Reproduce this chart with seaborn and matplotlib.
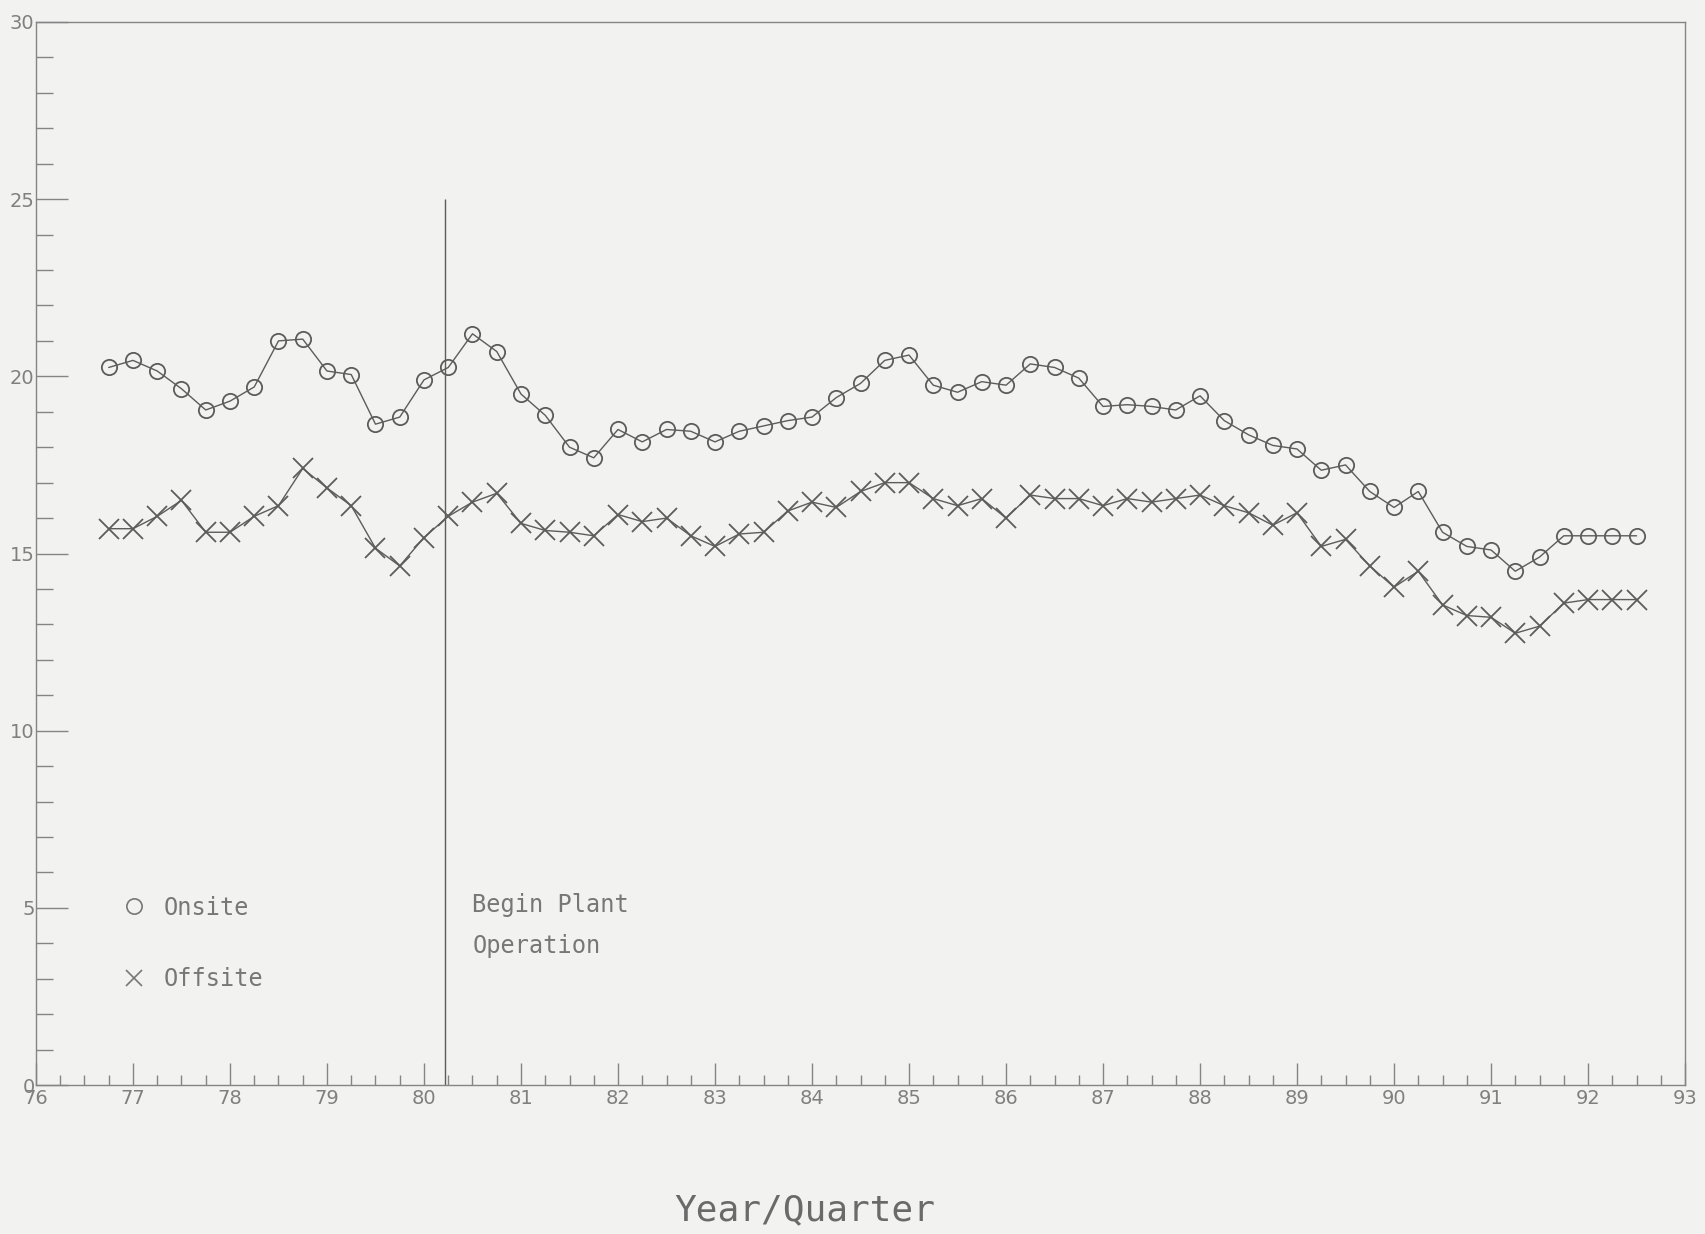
import numpy as np
import pandas as pd
import matplotlib
matplotlib.use("Agg")
import matplotlib.pyplot as plt
import seaborn as sns
from matplotlib.lines import Line2D
from matplotlib.ticker import MultipleLocator

# quarterly values, 76 Q4 .. 92 Q3
onsite = [20.25, 20.45, 20.15, 19.65, 19.05, 19.3, 19.7, 21.0, 21.05, 20.15,
          20.05, 18.65, 18.85, 19.9, 20.25, 21.2, 20.7, 19.5, 18.9, 18.0,
          17.7, 18.5, 18.15, 18.5, 18.45, 18.15, 18.45, 18.6, 18.75, 18.85,
          19.4, 19.8, 20.45, 20.6, 19.75, 19.55, 19.85, 19.75, 20.35, 20.25,
          19.95, 19.15, 19.2, 19.15, 19.05, 19.45, 18.75, 18.35, 18.05, 17.95,
          17.35, 17.5, 16.75, 16.3, 16.75, 15.6, 15.2, 15.1, 14.5, 14.9,
          15.5, 15.5, 15.5, 15.5]
offsite = [15.7, 15.7, 16.05, 16.5, 15.6, 15.6, 16.05, 16.35, 17.4, 16.85,
           16.35, 15.15, 14.65, 15.45, 16.05, 16.45, 16.7, 15.85, 15.65, 15.6,
           15.5, 16.1, 15.9, 16.0, 15.5, 15.2, 15.55, 15.6, 16.2, 16.45,
           16.3, 16.75, 17.0, 17.0, 16.55, 16.35, 16.55, 16.0, 16.65, 16.55,
           16.55, 16.35, 16.55, 16.45, 16.55, 16.65, 16.35, 16.15, 15.8, 16.15,
           15.2, 15.4, 14.65, 14.05, 14.5, 13.55, 13.25, 13.2, 12.75, 12.95,
           13.6, 13.7, 13.7, 13.7]
quarters = [76.75] + [y + q / 4 for y in range(77, 93) for q in range(4)][:63]
year_ticks = list(range(76, 94))
year_labels = [str(y) for y in year_ticks]
plant_start = 80.22

df = pd.DataFrame({"quarter": quarters, "Onsite": onsite, "Offsite": offsite})

sns.set_theme(style="white")
plt.rcParams["font.family"] = ["DejaVu Sans Mono", "DejaVu Sans"]

bg = "#f2f2f0"
ink = "#5c5c5c"
grey = "#858585"
txt = "#777777"
tick_font = ["Liberation Sans Narrow", "DejaVu Sans"]

fig = plt.figure(figsize=(17.05, 12.34), dpi=100, facecolor=bg)
ax = fig.add_axes([0.0211, 0.1207, 0.9672, 0.8615])
ax.set_facecolor(bg)

sns.lineplot(data=df, x="quarter", y="Onsite", ax=ax, color=ink, lw=1,
             marker="o", ms=11, mfc="none", mec=ink, mew=1.3)
sns.lineplot(data=df, x="quarter", y="Offsite", ax=ax, color=ink, lw=1,
             marker="x", ms=14, mec=ink, mew=1.3)

# start of plant operation
ax.vlines(plant_start, 0, 25, color=ink, lw=1)
ax.text(80.5, 4.5, "Begin Plant\n\nOperation", fontsize=17, color=txt,
        va="center", ha="left", linespacing=0.8)

handles = [Line2D([], [], ls="none", marker="o", ms=11, mfc="none", mec=txt, mew=1.2),
           Line2D([], [], ls="none", marker="x", ms=11, mec=txt, mew=1.2)]
ax.legend(handles, ["Onsite", "Offsite"], loc="center left",
          bbox_to_anchor=(76.9, 4.0), bbox_transform=ax.transData,
          frameon=False, fontsize=17, labelcolor=txt,
          handlelength=0.9, handletextpad=0.8, labelspacing=2.0,
          borderpad=0, borderaxespad=0)

ax.set_xlim(76, 93)
ax.set_ylim(0, 30)
ax.set_xticks(year_ticks, year_labels)
ax.xaxis.set_minor_locator(MultipleLocator(0.25))
ax.set_yticks(range(0, 31, 5))
ax.yaxis.set_minor_locator(MultipleLocator(1))
ax.tick_params(axis="x", which="major", bottom=True, direction="in", length=16,
               width=1, color=grey, labelsize=14, labelcolor="#808080", pad=3)
ax.tick_params(axis="x", which="minor", bottom=True, direction="in", length=7,
               width=1, color=grey)
ax.tick_params(axis="y", which="major", left=True, direction="in", length=23,
               width=1, color=grey, labelsize=14, labelcolor="#808080", pad=1)
ax.tick_params(axis="y", which="minor", left=True, direction="in", length=12,
               width=1, color=grey)
for lab in ax.get_xticklabels() + ax.get_yticklabels():
    lab.set_family(tick_font)
for s in ax.spines.values():
    s.set_color(grey)
    s.set_linewidth(1)
ax.set_xlabel("")
ax.set_ylabel("")

fig.text(0.472, 0.0194, "Year/Quarter", fontsize=26, family="DejaVu Sans Mono",
         color="#6a6a6a", ha="center", va="center")

fig.savefig("out.png", dpi=100, facecolor=bg)
